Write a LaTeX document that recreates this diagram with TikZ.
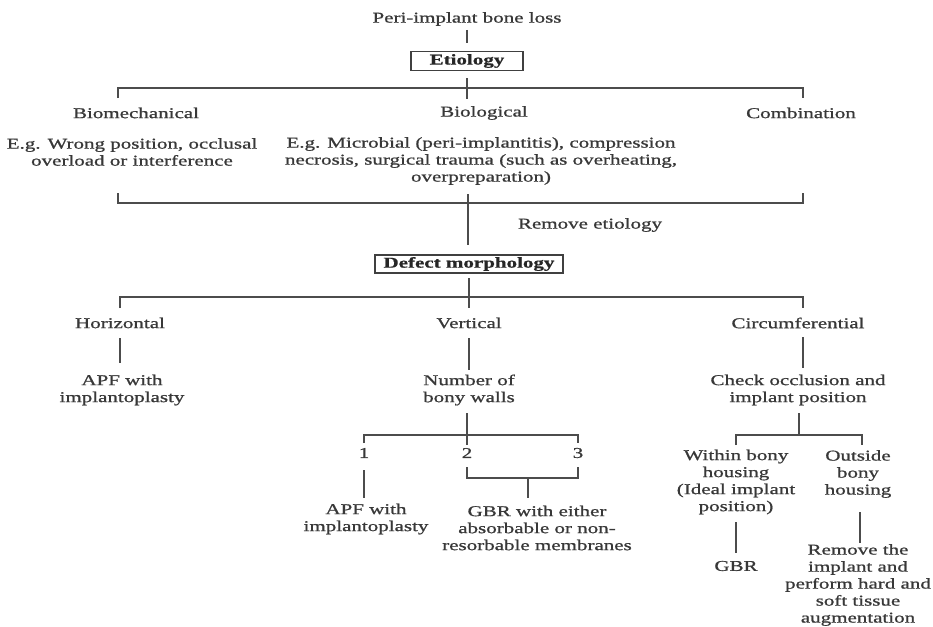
\documentclass[tikz,border=0pt]{standalone}
\usepackage{fontspec}
\setmainfont[FakeStretch=1.4,FakeBold=0.9,BoldFeatures={FakeStretch=1.4,FakeBold=0.6}]{Liberation Serif}
\begin{document}
\begin{tikzpicture}[x=1pt,y=-1pt,
  txt/.style={font=\fontsize{15}{17}\selectfont, text=black!78, align=center, inner sep=0pt},
  boxed/.style={draw=black!75, line width=1.4pt, font=\fontsize{15}{17}\selectfont\bfseries, text=black!85, inner sep=0pt},
  ln/.style={draw=black!70, line width=1.7pt}]
\useasboundingbox[fill=white] (0,0) rectangle (933,626);

% ---------- nodes ----------
\node[txt] (peri) at (467,19) {Peri-implant bone loss};
\node[boxed, minimum width=112, minimum height=19] (etio) at (467,61) {Etiology};
\node[txt] (biomech) at (136,113) {Biomechanical};
\node[txt] (biol) at (484,113) {Biological};
\node[txt] (comb) at (801,113) {Combination};
\node[txt] (eg1) at (132,152) {E.g. Wrong position, occlusal\\overload or interference};
\node[txt] (eg2) at (481,161) {E.g. Microbial (peri-implantitis), compression\\necrosis, surgical trauma (such as overheating,\\overpreparation)};
\node[txt] (remove) at (590,225) {Remove etiology};
\node[boxed, minimum width=188, minimum height=18] (defect) at (469,264) {Defect morphology};
\node[txt] (horiz) at (120,323) {Horizontal};
\node[txt] (vert) at (469,323) {Vertical};
\node[txt] (circ) at (798,323) {Circumferential};
\node[txt] (apf1) at (122,390) {APF with\\implantoplasty};
\node[txt] (nwalls) at (469,390) {Number of\\bony walls};
\node[txt] (check) at (798,390) {Check occlusion and\\implant position};
\node[txt] (w1) at (364,453) {1};
\node[txt] (w2) at (467,453) {2};
\node[txt] (w3) at (578,453) {3};
\node[txt] (apf2) at (366,519) {APF with\\implantoplasty};
\node[txt] (gbr1) at (537,528) {GBR with either\\absorbable or non-\\resorbable membranes};
\node[txt] (within) at (736,482) {Within bony\\housing\\(Ideal implant\\position)};
\node[txt] (outside) at (858,474) {Outside\\bony\\housing};
\node[txt] (gbr2) at (736,566) {GBR};
\node[txt] (removeimp) at (858,585) {Remove the\\implant and\\perform hard and\\soft tissue\\augmentation};

% ---------- junction coordinates ----------
\coordinate (p1a) at (467,30);  \coordinate (p1b) at (467,43);
\coordinate (e1a) at (467,78);  \coordinate (e1b) at (467,99);
\coordinate (b1L) at (118,88);  \coordinate (b1R) at (803,88);
\coordinate (b1Ld) at (118,98); \coordinate (b1Rd) at (803,98);
\coordinate (b2L) at (118,203); \coordinate (b2R) at (803,203);
\coordinate (b2Lu) at (118,193); \coordinate (b2Ru) at (803,193);
\coordinate (r1a) at (468,194); \coordinate (r1b) at (468,245);
\coordinate (d1a) at (469,278); \coordinate (d1b) at (469,308);
\coordinate (b3L) at (120,297); \coordinate (b3R) at (803,297);
\coordinate (b3Ld) at (120,308); \coordinate (b3Rd) at (803,308);
\coordinate (h1a) at (120,338); \coordinate (h1b) at (120,363);
\coordinate (v1a) at (469,338); \coordinate (v1b) at (469,370);
\coordinate (c1a) at (803,337); \coordinate (c1b) at (803,368);
\coordinate (n1a) at (467,413); \coordinate (n1b) at (467,445);
\coordinate (b4L) at (364,435); \coordinate (b4R) at (578,435);
\coordinate (b4Ld) at (364,443); \coordinate (b4Rd) at (578,443);
\coordinate (o1a) at (364,470); \coordinate (o1b) at (364,498);
\coordinate (t2a) at (467,467); \coordinate (t2b) at (467,478);
\coordinate (t3a) at (578,467); \coordinate (t3b) at (578,478);
\coordinate (s1a) at (528,478); \coordinate (s1b) at (528,498);
\coordinate (k1a) at (799,413); \coordinate (k1b) at (799,435);
\coordinate (b5L) at (736,435); \coordinate (b5R) at (862,435);
\coordinate (b5Ld) at (736,445); \coordinate (b5Rd) at (862,445);
\coordinate (g1a) at (736,522); \coordinate (g1b) at (736,553);
\coordinate (x1a) at (860,512); \coordinate (x1b) at (860,543);

% ---------- connectors ----------
\draw[ln] (p1a) -- (p1b);
\draw[ln] (e1a) -- (e1b);
\draw[ln] (b1Ld) -- (b1L) -- (b1R) -- (b1Rd);
\draw[ln] (b2Lu) -- (b2L) -- (b2R) -- (b2Ru);
\draw[ln] (r1a) -- (r1b);
\draw[ln] (d1a) -- (d1b);
\draw[ln] (b3Ld) -- (b3L) -- (b3R) -- (b3Rd);
\draw[ln] (h1a) -- (h1b);
\draw[ln] (v1a) -- (v1b);
\draw[ln] (c1a) -- (c1b);
\draw[ln] (n1a) -- (n1b);
\draw[ln] (b4Ld) -- (b4L) -- (b4R) -- (b4Rd);
\draw[ln] (o1a) -- (o1b);
\draw[ln] (t2a) -- (t2b) -- (t3b) -- (t3a);
\draw[ln] (s1a) -- (s1b);
\draw[ln] (k1a) -- (k1b);
\draw[ln] (b5Ld) -- (b5L) -- (b5R) -- (b5Rd);
\draw[ln] (g1a) -- (g1b);
\draw[ln] (x1a) -- (x1b);
\end{tikzpicture}
\end{document}
